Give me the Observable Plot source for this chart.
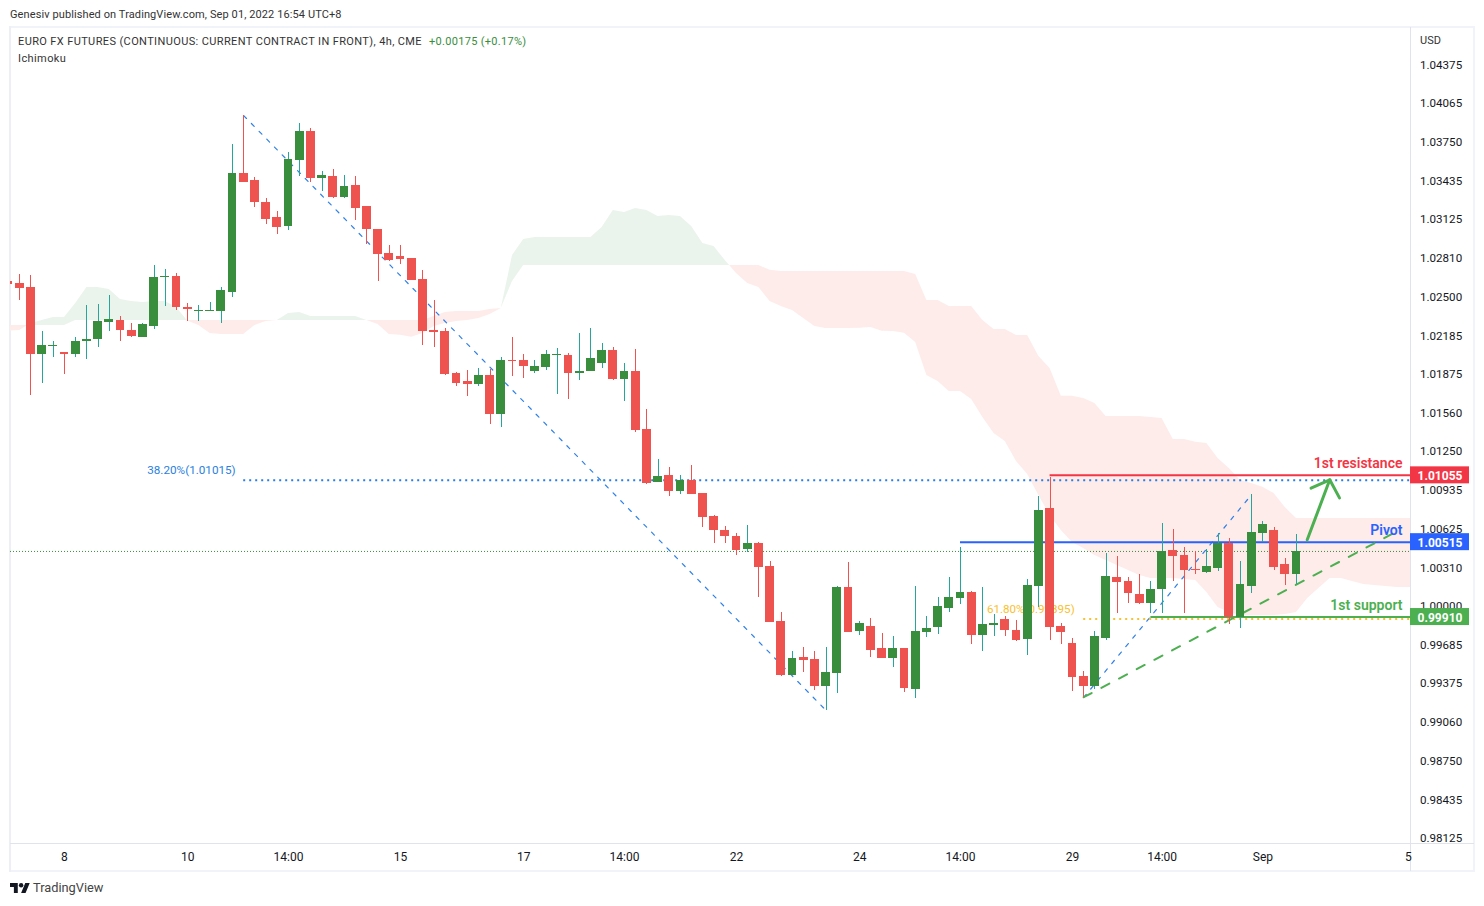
<!DOCTYPE html>
<html>
<head>
<meta charset="utf-8">
<script src="https://cdn.jsdelivr.net/npm/d3@7"></script>
<script src="https://cdn.jsdelivr.net/npm/@observablehq/plot@0.6"></script>
<style>
html,body{margin:0;padding:0;background:#fff;}
body{position:relative;width:1484px;height:906px;overflow:hidden;font-family:Roboto,"Liberation Sans",sans-serif;color:#131722;}
.abs{position:absolute;white-space:nowrap;}
.line{position:absolute;background:#e9ebf1;}
#chart{position:absolute;left:0;top:27px;}
</style>
</head>
<body>
<div class="line" style="left:9px;top:26px;width:1466px;height:2px;background:#f0f3fa"></div>
<div class="line" style="left:9px;top:870px;width:1466px;height:2px;background:#f0f3fa"></div>
<div class="line" style="left:9px;top:26px;width:2px;height:846px;background:#eeeff5"></div>
<div class="line" style="left:1473px;top:26px;width:2px;height:846px;background:#f0f3fa"></div>
<div class="line" style="left:1410px;top:27px;width:1px;height:844px;background:#e0e3eb"></div>
<div class="line" style="left:10px;top:843px;width:1464px;height:1px;background:#e0e3eb"></div>
<div id="chart"></div>
<div class="abs" style="left:10px;top:7.5px;font-size:11px;line-height:14px;letter-spacing:.1px;color:#333">Genesiv published on TradingView.com, Sep 01, 2022 16:54 UTC+8</div>
<div class="abs" style="left:18px;top:34.5px;font-size:11px;line-height:14px;letter-spacing:.38px;color:#333">EURO FX FUTURES (CONTINUOUS: CURRENT CONTRACT IN FRONT), 4h, CME<span style="margin-left:7px;letter-spacing:.3px;color:#388e3c">+0.00175 (+0.17%)</span></div>
<div class="abs" style="left:18px;top:52px;font-size:11px;line-height:14px;letter-spacing:.4px;color:#333">Ichimoku</div>
<div class="abs" style="left:1420px;top:34px;font-size:11px;line-height:14px;color:#333">USD</div>
<svg class="abs" style="left:10px;top:883px" width="20" height="10" viewBox="0 4 36 18"><path fill="#131722" d="M14 22H7V11H0V4h14v18zM28 22h-8l7.5-18h8L28 22z"/><circle fill="#131722" cx="20" cy="8" r="4"/></svg>
<div class="abs" style="left:33px;top:880px;font-size:12.8px;line-height:16px;color:#444">TradingView</div>
<script>
const opens=[1.02621,1.02605,1.02573,1.02031,1.02096,1.02047,1.02031,1.02136,1.02152,1.02290,
1.02306,1.02225,1.02169,1.02258,1.02653,1.02662,1.02411,1.02379,1.02379,1.02379,
1.02532,1.03494,1.03437,1.03259,1.03138,1.03066,1.03599,1.03833,1.03453,1.03470,
1.03300,1.03397,1.03227,1.03041,1.02847,1.02823,1.02807,1.02637,1.02225,1.02217,
1.01878,1.01813,1.01789,1.01862,1.01547,1.01983,1.01983,1.01894,1.01926,1.02023,
1.02023,1.01878,1.01894,1.01959,1.02064,1.01829,1.01894,1.01425,1.00997,1.01054,
1.00924,1.01013,1.00908,1.00722,1.00609,1.00561,1.00456,1.00504,1.00318,0.99874,
0.99438,0.99583,0.99567,0.99349,0.99454,1.00149,0.99793,0.99834,0.99656,0.99575,
0.99656,0.99325,0.99785,0.99825,0.99979,1.00060,1.00108,0.99761,0.99842,0.99890,
0.99801,0.99729,1.00157,1.00787,0.99834,0.99696,0.99430,0.99349,0.99737,1.00229,
1.00197,1.00092,1.00019,1.00133,1.00448,1.00407,1.00294,1.00270,1.00302,1.00504,
0.99906,1.00157,1.00585,1.00609,1.00335,1.00254];
const highs=[1.02621,1.02678,1.02670,1.02217,1.02136,1.02047,1.02169,1.02427,1.02435,1.02508,
1.02338,1.02282,1.02282,1.02750,1.02718,1.02686,1.02443,1.02427,1.02451,1.02573,
1.03728,1.03962,1.03461,1.03292,1.03187,1.03663,1.03898,1.03857,1.03510,1.03526,
1.03478,1.03470,1.03227,1.03041,1.02912,1.02912,1.02807,1.02710,1.02468,1.02241,
1.01886,1.01902,1.01918,1.01910,1.02007,1.02169,1.02031,1.01983,1.02064,1.02080,
1.02039,1.02201,1.02241,1.02120,1.02088,1.01959,1.02072,1.01587,1.01183,1.01118,
1.01054,1.01134,1.00908,1.00730,1.00642,1.00585,1.00650,1.00512,1.00359,0.99947,
0.99632,0.99664,0.99632,0.99664,1.00157,1.00351,0.99874,0.99898,0.99777,0.99753,
0.99656,1.00157,0.99914,1.00068,1.00229,1.00472,1.00116,1.00149,0.99931,0.99914,
0.99882,1.00213,1.00884,1.01037,0.99858,0.99737,0.99470,0.99793,1.00423,1.00399,
1.00229,1.00254,1.00197,1.00666,1.00617,1.00472,1.00440,1.00456,1.00585,1.00545,
1.00359,1.00900,1.00682,1.00633,1.00383,1.00577];
const lows=[1.02597,1.02468,1.01700,1.01797,1.02007,1.01870,1.02007,1.01991,1.02088,1.02217,
1.02136,1.02169,1.02169,1.02233,1.02419,1.02387,1.02298,1.02298,1.02379,1.02282,
1.02492,1.03421,1.03219,1.03082,1.03001,1.03033,1.03470,1.03421,1.03348,1.03292,
1.03292,1.03114,1.02920,1.02621,1.02783,1.02759,1.02629,1.02104,1.02088,1.01862,
1.01773,1.01692,1.01773,1.01466,1.01441,1.01854,1.01837,1.01878,1.01902,1.01708,
1.01668,1.01821,1.01894,1.01918,1.01821,1.01652,1.01401,1.00981,1.00997,1.00884,
1.00900,1.00900,1.00633,1.00504,1.00504,1.00407,1.00431,1.00068,0.99866,0.99430,
0.99438,0.99462,0.99316,0.99155,0.99292,0.99785,0.99761,0.99583,0.99575,0.99502,
0.99300,0.99252,0.99745,0.99769,0.99947,1.00011,0.99688,0.99632,0.99753,0.99753,
0.99712,0.99599,0.99987,0.99720,0.99688,0.99308,0.99260,0.99325,0.99720,0.99939,
1.00019,1.00011,0.99939,0.99939,1.00197,0.99939,1.00254,1.00262,1.00278,0.99850,
0.99817,1.00100,1.00512,1.00286,1.00165,1.00173];
const closes=[1.02597,1.02565,1.02031,1.02104,1.02104,1.02031,1.02136,1.02152,1.02298,1.02314,
1.02225,1.02177,1.02274,1.02653,1.02662,1.02411,1.02395,1.02387,1.02387,1.02548,
1.03494,1.03421,1.03259,1.03122,1.03057,1.03607,1.03833,1.03453,1.03478,1.03300,
1.03389,1.03211,1.03041,1.02839,1.02791,1.02799,1.02629,1.02217,1.02209,1.01870,
1.01797,1.01789,1.01862,1.01547,1.01983,1.01975,1.01934,1.01934,1.02031,1.02031,
1.01878,1.01894,1.01999,1.02064,1.01829,1.01894,1.01417,1.00989,1.01046,1.00924,
1.01013,1.00900,1.00714,1.00609,1.00561,1.00448,1.00504,1.00310,0.99866,0.99438,
0.99575,0.99559,0.99349,0.99462,1.00149,0.99785,0.99858,0.99640,0.99575,0.99656,
0.99333,0.99793,0.99817,0.99995,1.00068,1.00108,0.99761,0.99850,0.99858,0.99801,
0.99720,1.00165,1.00771,0.99825,0.99785,0.99421,0.99349,0.99753,1.00238,1.00189,
1.00100,1.00019,1.00133,1.00440,1.00399,1.00286,1.00286,1.00318,1.00504,0.99906,
1.00173,1.00593,1.00658,1.00310,1.00254,1.00440];
const spanA=[1.02220,1.02225,1.02282,1.02306,1.02330,1.02330,1.02443,1.02573,1.02573,1.02557,
1.02476,1.02460,1.02451,1.02460,1.02460,1.02411,1.02302,1.02266,1.02201,1.02193,
1.02193,1.02193,1.02266,1.02298,1.02306,1.02363,1.02371,1.02338,1.02338,1.02338,
1.02338,1.02338,1.02306,1.02274,1.02193,1.02187,1.02171,1.02201,1.02258,1.02282,
1.02298,1.02306,1.02322,1.02355,1.02403,1.02831,1.02960,1.02977,1.02977,1.02977,
1.02977,1.02977,1.02977,1.03057,1.03195,1.03179,1.03211,1.03195,1.03146,1.03154,
1.03146,1.03066,1.02928,1.02904,1.02791,1.02686,1.02605,1.02573,1.02460,1.02419,
1.02387,1.02322,1.02258,1.02241,1.02241,1.02241,1.02244,1.02249,1.02220,1.02217,
1.02203,1.02128,1.01862,1.01813,1.01732,1.01732,1.01668,1.01522,1.01393,1.01328,
1.01167,1.01062,1.00892,1.00730,1.00609,1.00512,1.00464,1.00407,1.00367,1.00326,
1.00286,1.00246,1.00221,1.00221,1.00221,1.00213,1.00205,1.00108,0.99987,0.99947,
0.99922,0.99922,0.99922,0.99922,0.99931,0.99947,1.00060,1.00141,1.00221,1.00221,
1.00197,1.00173,1.00165,1.00157,1.00149,1.00149];
const spanB=[1.02266,1.02266,1.02266,1.02266,1.02266,1.02266,1.02306,1.02306,1.02306,1.02306,
1.02306,1.02306,1.02306,1.02306,1.02306,1.02306,1.02306,1.02306,1.02306,1.02306,
1.02306,1.02306,1.02306,1.02306,1.02306,1.02306,1.02306,1.02306,1.02306,1.02306,
1.02306,1.02306,1.02306,1.02306,1.02306,1.02306,1.02306,1.02306,1.02338,1.02371,
1.02379,1.02379,1.02379,1.02395,1.02403,1.02621,1.02750,1.02750,1.02750,1.02750,
1.02750,1.02750,1.02750,1.02750,1.02750,1.02750,1.02750,1.02750,1.02750,1.02750,
1.02750,1.02750,1.02750,1.02750,1.02750,1.02750,1.02750,1.02750,1.02712,1.02702,
1.02702,1.02702,1.02702,1.02702,1.02702,1.02702,1.02702,1.02702,1.02702,1.02702,
1.02702,1.02678,1.02468,1.02468,1.02419,1.02419,1.02419,1.02306,1.02233,1.02233,
1.02185,1.02185,1.02015,1.01918,1.01694,1.01694,1.01676,1.01635,1.01530,1.01530,
1.01530,1.01530,1.01522,1.01514,1.01345,1.01345,1.01323,1.01312,1.01191,1.01110,
1.01013,1.00989,1.00959,1.00908,1.00795,1.00706,1.00706,1.00706,1.00706,1.00706,
1.00706,1.00706,1.00706,1.00706,1.00706,1.00706];
const priceTicks=[1.04375,1.04065,1.0375,1.03435,1.03125,1.0281,1.025,1.02185,1.01875,1.0156,1.0125,1.00935,1.00625,1.0031,1.0,0.99685,0.99375,0.9906,0.9875,0.98435,0.98125];
const timeBars=[5,16,25,35,46,55,65,76,85,95,103,112,125];
const timeLabels=["8","10","14:00","15","17","14:00","22","24","14:00","29","14:00","Sep","5"];
const levelNames=["1st resistance","Pivot","1st support"];
const levelPrices=[1.01055,1.00515,0.99910];
const levelStart=[93,85,102];
const levelColors=["#f23645","#2962ff","#4caf50"];
const fibDownBars=[21,73], fibDownPrices=[1.03962,0.99155];
const fibUpBars=[96,111], fibUpPrices=[0.99260,1.00900];
const fib382={bar:21,price:1.01015,label:"38.20%(1.01015)"};
const fib618={bar:96,price:0.99895,label:"61.80%(0.99895)"};
const trendBars=[96,124.4], trendPrices=[0.99262,1.00623];
const arrowBars=[115.96,117.97], arrowPrices=[1.00534,1.01019];
const headBars=[116.3,117.97,118.84], headPrices=[1.00951,1.01019,1.00873];

const xStart=0.17857, xEnd=125.18;
const candles=opens.map((o,i)=>({i,o,h:highs[i],l:lows[i],c:closes[i],up:closes[i]>=o}));
const upC=candles.filter(d=>d.up), downC=candles.filter(d=>!d.up);
const cloud=[];
spanA.forEach((a,i)=>{
  const b=spanB[i];
  cloud.push({x:i,a,b,top:Math.max(a,b)});
  if(i<spanA.length-1){
    const a2=spanA[i+1],b2=spanB[i+1],d1=a-b,d2=a2-b2;
    if(d1*d2<0){const t=d1/(d1-d2),v=a+(a2-a)*t;cloud.push({x:i+t,a:v,b:v,top:v});}
  }
});
cloud.push({x:xEnd,a:spanA[125],b:spanB[125],top:Math.max(spanA[125],spanB[125])});
const pts=(xs,ys)=>xs.map((x,k)=>({x,y:ys[k]}));
const levels=levelNames.map((name,k)=>({name,price:levelPrices[k],start:levelStart[k],color:levelColors[k]}));
const font="Roboto, 'Liberation Sans', sans-serif";

const chart=Plot.plot({
  width:1484,height:844,
  marginLeft:10,marginRight:74,marginTop:0,marginBottom:28,
  x:{domain:[xStart,xEnd],axis:null},
  y:{domain:[0.98080,1.04674],axis:null},
  style:{fontFamily:font,fontSize:"12px",background:"transparent",color:"#131722"},
  marks:[
    Plot.areaY(cloud,{x:"x",y1:"b",y2:"top",fill:"#ebf4ec",clip:true}),
    Plot.areaY(cloud,{x:"x",y1:"a",y2:"top",fill:"#feecea",clip:true}),
    Plot.axisX(timeBars,{anchor:"bottom",tickSize:0,tickPadding:9,tickFormat:d=>timeLabels[timeBars.indexOf(d)],fontSize:12,label:null,color:"#131722"}),
    Plot.axisY(priceTicks,{anchor:"right",tickSize:0,tickPadding:9.5,dy:0.4,tickFormat:d=>d.toFixed(5),fontSize:11.6,label:null,color:"#131722"}),
    Plot.ruleY([closes[closes.length-1]],{x1:xStart,x2:xEnd,stroke:"#388e3c",strokeWidth:1,strokeDasharray:"1,2"}),
    Plot.line(pts(fibDownBars,fibDownPrices),{x:"x",y:"y",stroke:"#2f80e8",strokeWidth:1.2,strokeDasharray:"4,7"}),
    Plot.line(pts(fibUpBars,fibUpPrices),{x:"x",y:"y",stroke:"#2f80e8",strokeWidth:1.2,strokeDasharray:"4,7"}),
    Plot.ruleY([fib382],{x1:"bar",x2:()=>xEnd,y:"price",stroke:"#2b7fe0",strokeWidth:2,strokeDasharray:"2,4"}),
    Plot.ruleY([fib618],{x1:"bar",x2:()=>xEnd,y:"price",stroke:"#fbc02d",strokeWidth:2,strokeDasharray:"2,4"}),
    Plot.text([fib382],{x:"bar",y:"price",text:"label",textAnchor:"end",dx:-8,dy:-10,fill:"#2b7fe0",fontSize:11.7}),
    Plot.text([fib618],{x:"bar",y:"price",text:"label",textAnchor:"end",dx:-9,dy:-10,fill:"#fbc02d",fontSize:11.6}),
    Plot.ruleY(levels,{x1:"start",x2:()=>xEnd,y:"price",stroke:"color",strokeWidth:2}),
    Plot.line(pts(trendBars,trendPrices),{x:"x",y:"y",stroke:"#4caf50",strokeWidth:2,strokeDasharray:"9,11"}),
    Plot.ruleX(upC,{x:"i",y1:"l",y2:"h",stroke:"#26a69a",strokeWidth:1,clip:true,shapeRendering:"crispEdges"}),
    Plot.ruleX(downC,{x:"i",y1:"l",y2:"h",stroke:"#ef5350",strokeWidth:1,clip:true,shapeRendering:"crispEdges"}),
    Plot.rect(upC,{x1:d=>d.i-0.4,x2:d=>d.i+0.4,y1:"o",y2:"c",fill:"#388e3c",clip:true,shapeRendering:"crispEdges"}),
    Plot.rect(downC,{x1:d=>d.i-0.4,x2:d=>d.i+0.4,y1:"o",y2:"c",fill:"#ef5350",clip:true,shapeRendering:"crispEdges"}),
    Plot.line(pts(arrowBars,arrowPrices),{x:"x",y:"y",stroke:"#4caf50",strokeWidth:3}),
    Plot.line(pts(headBars,headPrices),{x:"x",y:"y",stroke:"#4caf50",strokeWidth:3}),
    Plot.text(levels,{x:()=>xEnd,y:"price",text:"name",textAnchor:"end",dx:-8,dy:-12,fill:"color",fontSize:14,fontWeight:600}),
    Plot.rect(levels,{x1:()=>xEnd,x2:()=>xEnd,y1:"price",y2:"price",insetRight:-59,insetTop:-8.5,insetBottom:-8.5,fill:"color"}),
    Plot.text(levels,{x:()=>xEnd,y:"price",text:d=>d.price.toFixed(5),dx:29.5,dy:1,fill:"#fff",fontWeight:700,fontSize:12})
  ]
});
document.getElementById("chart").appendChild(chart);
</script>
</body>
</html>
